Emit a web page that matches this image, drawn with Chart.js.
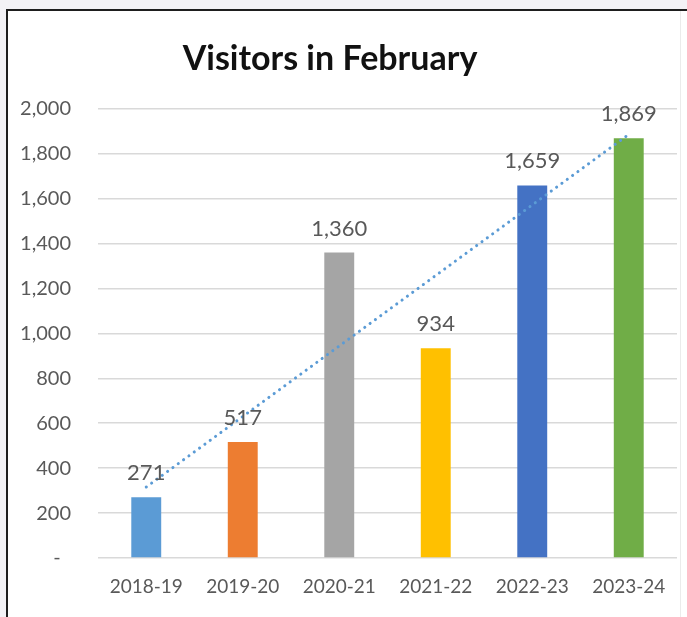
<!DOCTYPE html>
<html>
<head>
<meta charset="utf-8">
<title>Visitors in February</title>
<script src="https://cdn.jsdelivr.net/npm/chart.js@4.4.1/dist/chart.umd.min.js"></script>
<style>
    html, body { margin: 0; padding: 0; background: #f3f2f6; overflow: hidden; }
    #frame {
        position: absolute; left: 6px; top: 9px; width: 679px; height: 606px;
        border-top: 2px solid #1e1e1e; border-left: 2px solid #1e1e1e;
        background: #fff; overflow: hidden;
    }
    #edge { position: absolute; left: 672px; top: 0; width: 1px; height: 100%; background: #ebebeb; }
    #chart-container { position: absolute; left: -25px; top: 0; width: 704px; height: 606px; }
</style>
</head>
<body>
<div id="frame">
    <div id="edge"></div>
    <div id="chart-container"><canvas id="chart"></canvas></div>
</div>
<script>
const categories = ['2018-19', '2019-20', '2020-21', '2021-22', '2022-23', '2023-24'];
const visitors = [271, 517, 1360, 934, 1659, 1869];
// dotted trendline at the first and last season
const trend = [316, null, null, null, null, 1886];
const yTickLabels = ['-', '200', '400', '600', '800', '1,000', '1,200', '1,400', '1,600', '1,800', '2,000'];

const barColors = ['#5b9bd5', '#ed7d31', '#a5a5a5', '#ffc000', '#4472c4', '#70ad47'];
const textGray = '#595959';

// value labels above each bar
const barLabels = {
    id: 'barLabels',
    afterDatasetsDraw(chart) {
        const meta = chart.getDatasetMeta(1);
        const ctx = chart.ctx;
        ctx.save();
        ctx.font = '22px Lato';
        ctx.fillStyle = textGray;
        ctx.textAlign = 'center';
        ctx.textBaseline = 'middle';
        meta.data.forEach((bar, i) => {
            ctx.fillText(visitors[i].toLocaleString('en-US'), bar.x, bar.y - 24);
        });
        ctx.restore();
    }
};

const ctx = document.getElementById('chart').getContext('2d');
new Chart(ctx, {
    data: {
        labels: categories,
        datasets: [
            {
                type: 'line',
                label: 'Trend',
                data: trend,
                spanGaps: true,
                borderColor: '#5b9bd5',
                borderWidth: 3,
                borderDash: [0.1, 6.5],
                borderCapStyle: 'round',
                pointRadius: 0,
                fill: false,
                order: 0
            },
            {
                type: 'bar',
                label: 'Visitors',
                data: visitors,
                backgroundColor: barColors,
                barPercentage: 0.31,
                categoryPercentage: 1,
                order: 1
            }
        ]
    },
    options: {
        responsive: true,
        maintainAspectRatio: false,
        animation: false,
        layout: { padding: { top: 0, right: 10, bottom: 0, left: 0 } },
        plugins: {
            legend: { display: false },
            tooltip: { enabled: false },
            title: {
                display: true,
                text: 'Visitors in February',
                color: '#111',
                font: { family: 'Lato', size: 34, weight: 'bold' },
                padding: { top: 28, bottom: 29 }
            }
        },
        scales: {
            x: {
                grid: { display: false, drawTicks: false },
                border: { display: false },
                ticks: {
                    color: textGray,
                    font: { family: 'Lato', size: 19 },
                    padding: 17,
                    maxRotation: 0
                },
                afterFit(scale) { scale.height = 59; }
            },
            y: {
                min: 0,
                max: 2000,
                grid: { color: '#d9d9d9', lineWidth: 1.5, drawTicks: false },
                border: { display: false },
                ticks: {
                    stepSize: 200,
                    color: textGray,
                    font: { family: 'Lato', size: 20 },
                    padding: 27,
                    callback: (value, index) => yTickLabels[index] === '-' ? '-  ' : yTickLabels[index]
                },
                afterFit(scale) { scale.width = 115; }
            }
        }
    },
    plugins: [barLabels]
});
</script>
</body>
</html>
